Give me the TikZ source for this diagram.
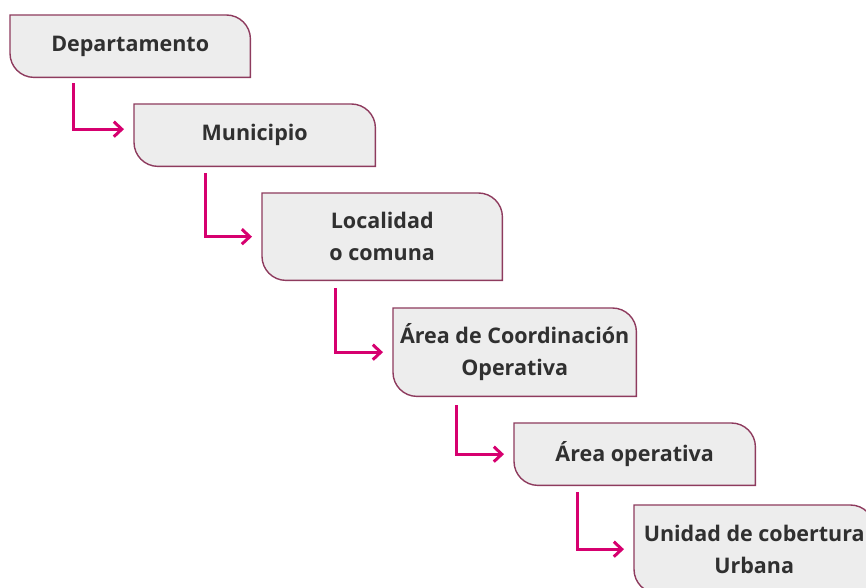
\documentclass[tikz,border=0pt]{standalone}
\usepackage{fontspec}
\setmainfont{Open Sans}
\usetikzlibrary{arrows.meta, backgrounds}

\definecolor{boxfill}{HTML}{EDEDED}
\definecolor{boxline}{HTML}{8E3B5E}
\definecolor{linkcol}{HTML}{D6006F}
\definecolor{textcol}{HTML}{303030}

\tikzset{
    level/.style={anchor=north west, inner sep=0pt, align=center, text=textcol,
        font=\bfseries\fontsize{21.5}{32}\selectfont},
    boxshape/.style={fill=boxfill, draw=boxline, line width=1.4pt},
    link/.style={draw=linkcol, line width=3pt, -{Straight Barb[length=8pt,width=15pt]}}
}

\begin{document}
\begin{tikzpicture}[x=1pt, y=1pt]
        \useasboundingbox (0,0) rectangle (866,588);

        \node[level, minimum width=240, minimum height=62] (dep) at (10,573) {Departamento};
        \node[level, minimum width=241, minimum height=62] (mun) at (134,484) {Municipio};
        \node[level, minimum width=240, minimum height=87] (loc) at (262,395) {Localidad\\o comuna};
        \node[level, minimum width=243, minimum height=88] (aco) at (393,280) {Área de Coordinación\\Operativa};
        \node[level, minimum width=241, minimum height=62] (aop) at (514,165) {Área operativa};
        \node[level, minimum width=240, minimum height=88] (ucu) at (634,83) {Unidad de cobertura\\Urbana};

        % outlines: rounded top right and bottom left
        \begin{scope}[on background layer]
            \foreach \n in {dep,mun,loc,aco,aop,ucu}{
                \filldraw[boxshape] (\n.north west) -- ([xshift=-24pt]\n.north east) arc (90:0:24pt)
                    -- (\n.south east) -- ([xshift=24pt]\n.south west) arc (270:180:24pt) -- cycle;
            }
        \end{scope}

        \draw[link] ([xshift=63pt,yshift=-6pt]dep.south west) |- ([xshift=-10pt,yshift=6pt]mun.west);
        \draw[link] ([xshift=71pt,yshift=-7pt]mun.south west) |- ([xshift=-10pt]loc.west);
        \draw[link] ([xshift=73pt,yshift=-8pt]loc.south west) |- ([xshift=-10pt]aco.west);
        \draw[link] ([xshift=63pt,yshift=-9pt]aco.south west) |- ([xshift=-10pt]aop.west);
        \draw[link] ([xshift=63pt,yshift=-7pt]aop.south west) |- ([xshift=-10pt]ucu.west);
\end{tikzpicture}
\end{document}
